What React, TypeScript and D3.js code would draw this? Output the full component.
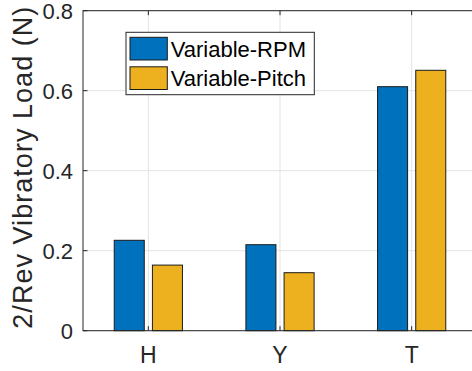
import React from "react";
import * as d3 from "d3";

const categories = ["H", "Y", "T"];
const seriesNames = ["Variable-RPM", "Variable-Pitch"];
const rpmValues = [0.226, 0.215, 0.61];
const pitchValues = [0.164, 0.145, 0.651];
const yTicks = [0, 0.2, 0.4, 0.6, 0.8];
const yLabel = "2/Rev Vibratory Load (N)";

const W = 472;
const H = 371;
const plot = { left: 83, top: 10.7, bottom: 330.7, right: 477.5 };
const colors = ["#0072BD", "#EDB120"];
const axisColor = "#262626";
const gridColor = "#e3e3e3";
const font = "'Liberation Sans', Arial, Helvetica, sans-serif";

export default function App() {
  const x = d3.scaleLinear().domain([0.5, 3.5]).range([82.5, plot.right]);
  const y = d3.scaleLinear().domain([0, 0.8]).range([plot.bottom, plot.top]);
  const unit = x(2) - x(1);
  const barW = 0.228 * unit;
  const offsets = [-0.145, 0.145];
  const series = [rpmValues, pitchValues];
  const tickLen = 4.5;

  return (
    <svg
      width={W}
      height={H}
      style={{ position: "absolute", left: 0, top: 0, background: "#fff" }}
      fontFamily={font}
    >
      <rect x={0} y={0} width={W} height={H} fill="#fff" />
      {/* grid */}
      {yTicks.map((t) => (
        <line key={"gy" + t} x1={plot.left} x2={plot.right} y1={y(t)} y2={y(t)} stroke={gridColor} strokeWidth={1} />
      ))}
      {categories.map((c, i) => (
        <line key={"gx" + c} x1={x(i + 1)} x2={x(i + 1)} y1={plot.top} y2={plot.bottom} stroke={gridColor} strokeWidth={1} />
      ))}
      {/* bars */}
      {series.map((vals, s) =>
        vals.map((v, i) => (
          <rect
            key={`b${s}-${i}`}
            x={x(i + 1 + offsets[s]) - barW / 2}
            y={y(v)}
            width={barW}
            height={y(0) - y(v)}
            fill={colors[s]}
            stroke="#1a1a1a"
            strokeWidth={1}
          />
        ))
      )}
      {/* axes box */}
      <rect
        x={plot.left}
        y={plot.top}
        width={plot.right - plot.left}
        height={plot.bottom - plot.top}
        fill="none"
        stroke={axisColor}
        strokeWidth={1}
      />
      {/* ticks */}
      {yTicks.map((t) => (
        <g key={"ty" + t}>
          <line x1={plot.left} x2={plot.left + tickLen} y1={y(t)} y2={y(t)} stroke={axisColor} />
          <line x1={plot.right} x2={plot.right - tickLen} y1={y(t)} y2={y(t)} stroke={axisColor} />
          <text
            x={plot.left - 10}
            y={y(t) + 1}
            textAnchor="end"
            dominantBaseline="central"
            fontSize={22}
            fill={axisColor}
          >
            {d3.format("")(t)}
          </text>
        </g>
      ))}
      {categories.map((c, i) => (
        <g key={"tx" + c}>
          <line x1={x(i + 1)} x2={x(i + 1)} y1={plot.bottom} y2={plot.bottom - tickLen} stroke={axisColor} />
          <line x1={x(i + 1)} x2={x(i + 1)} y1={plot.top} y2={plot.top + tickLen} stroke={axisColor} />
          <text x={x(i + 1)} y={363} textAnchor="middle" fontSize={23} fill={axisColor}>
            {c}
          </text>
        </g>
      ))}
      {/* y label */}
      <text
        transform={`translate(32,${(plot.top + plot.bottom) / 2 - 3}) rotate(-90)`}
        textAnchor="middle"
        fontSize={27}
        fill={axisColor}
        textLength={322}
        lengthAdjust="spacing"
      >
        {yLabel}
      </text>
      {/* legend */}
      <g>
        <rect x={126} y={32.3} width={188.3} height={62.4} fill="#fff" stroke={axisColor} strokeWidth={1} />
        {seriesNames.map((n, s) => (
          <g key={n}>
            <rect x={130} y={37.3 + s * 29.5} width={37.3} height={22.7} fill={colors[s]} stroke="#1a1a1a" />
            <text x={170.7} y={49 + s * 29.5} dominantBaseline="central" fontSize={22} fill="#000">
              {n}
            </text>
          </g>
        ))}
      </g>
    </svg>
  );
}
